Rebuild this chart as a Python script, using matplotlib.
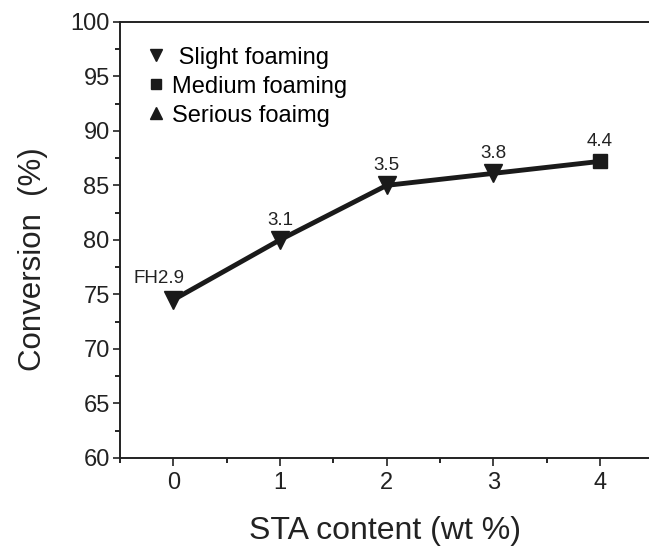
import matplotlib.pyplot as plt
from matplotlib.lines import Line2D
from matplotlib.ticker import MultipleLocator

plt.rcParams['font.family'] = ['Liberation Sans', 'DejaVu Sans']

sta = [0, 1, 2, 3, 4]
conversion = [74.5, 80.0, 85.0, 86.1, 87.2]
labels = ["FH2.9", "3.1", "3.5", "3.8", "4.4"]
markers = ["v", "v", "v", "v", "s"]

legend_labels = [" Slight foaming", "Medium foaming", "Serious foaimg"]
legend_markers = ["v", "s", "^"]

fig = plt.figure(figsize=(6.49, 5.47), dpi=100)
ax = fig.add_axes([0.185, 0.163, 0.815, 0.797])

ax.plot(sta, conversion, color="#1a1a1a", lw=3.5, zorder=2)
for x, y, m in zip(sta, conversion, markers):
    ax.plot(x, y, marker=m, color="#1a1a1a", ms=13 if m == "v" else 10,
            ls="none", zorder=3)

for i, (x, y, t) in enumerate(zip(sta, conversion, labels)):
    if i == 0:
        ax.annotate(t, (x, y), xytext=(8, 9), textcoords="offset points",
                    ha="right", va="bottom", fontsize=13.5, color="#222222")
    else:
        ax.annotate(t, (x, y), xytext=(0, 8), textcoords="offset points",
                    ha="center", va="bottom", fontsize=13.5, color="#222222")

handles = [Line2D([], [], marker=m, color="#1a1a1a", ls="none",
                  ms=6.5 if m == "s" else 8)
           for m in legend_markers]
ax.legend(handles, legend_labels, loc="upper left", frameon=False,
          fontsize=17, handlelength=0.7, handletextpad=0.3,
          labelspacing=0.3, borderaxespad=0, bbox_to_anchor=(0.035, 0.965))

ax.set_xlim(-0.5, 4.46)
ax.set_ylim(60, 100)
ax.xaxis.set_major_locator(MultipleLocator(1))
ax.xaxis.set_minor_locator(MultipleLocator(0.5))
ax.yaxis.set_major_locator(MultipleLocator(5))
ax.yaxis.set_minor_locator(MultipleLocator(2.5))

ax.tick_params(which="major", direction="out", length=5, width=1.2,
               labelsize=17, colors="#222222", pad=2.5)
ax.tick_params(which="minor", direction="out", length=3.5, width=1.2)
ax.tick_params(axis="x", which="major", length=6, pad=4)

ax.spines["right"].set_visible(False)
for s in ["left", "bottom", "top"]:
    ax.spines[s].set_linewidth(1.4)
    ax.spines[s].set_color("#222222")

ax.set_xlabel("STA content (wt %)", fontsize=23, labelpad=16, color="#222222")
ax.set_ylabel("Conversion  (%)", fontsize=22.5, labelpad=16, color="#222222")
ax.yaxis.label.set_y(0.456)

fig.savefig("out.png", dpi=100)
